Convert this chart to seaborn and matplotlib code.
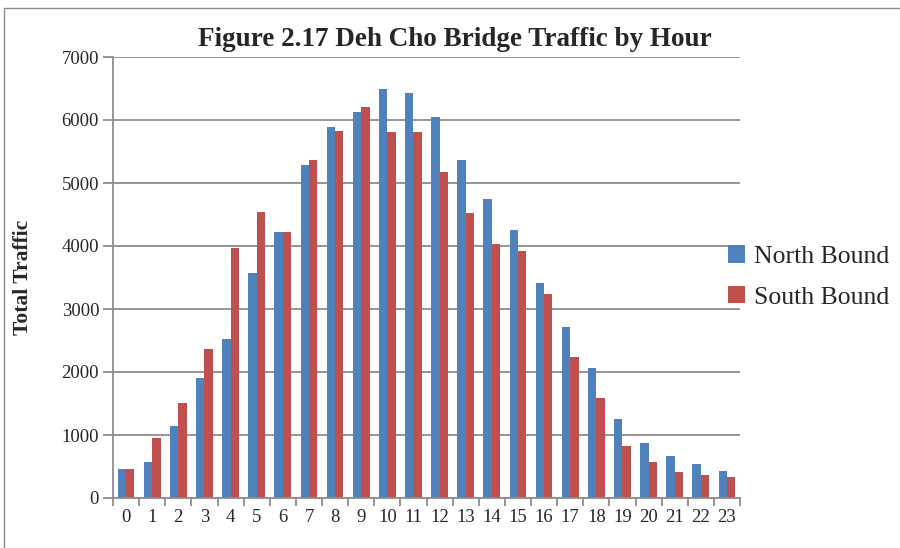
import numpy as np
import pandas as pd
import matplotlib
matplotlib.use("Agg")
import matplotlib.pyplot as plt
import seaborn as sns
from matplotlib.patches import Rectangle

hours = list(range(24))
north_bound = [460, 570, 1140, 1900, 2520, 3570, 4220, 5290, 5890, 6130, 6490, 6430,
               6050, 5370, 4750, 4250, 3410, 2710, 2060, 1250, 870, 670, 540, 430]
south_bound = [460, 950, 1510, 2370, 3970, 4540, 4220, 5370, 5830, 6210, 5810, 5810,
               5180, 4520, 4030, 3920, 3240, 2240, 1590, 830, 570, 410, 360, 330]
series_names = ["North Bound", "South Bound"]

df = pd.DataFrame({
    "Hour": hours * 2,
    "Traffic": north_bound + south_bound,
    "Direction": [series_names[0]] * 24 + [series_names[1]] * 24,
})

sns.set_theme(style="white")
plt.rcParams["font.family"] = ["Liberation Serif", "DejaVu Serif"]

fig = plt.figure(figsize=(9, 5.48), dpi=100)
ax = fig.add_axes([113 / 900, 1 - 498 / 548, (740 - 113) / 900, (498 - 57) / 548])

# chart area frame
fig.patches.append(Rectangle((4 / 900, -0.1), 1.2, 1.1 - 8 / 548,
                             transform=fig.transFigure, fill=False,
                             edgecolor="#8c8c8c", linewidth=1.0))

sns.barplot(data=df, x="Hour", y="Traffic", hue="Direction",
            palette=["#4F81BD", "#C0504D"], width=0.645, ax=ax,
            edgecolor="none", saturation=1, legend=True)

ax.set_ylim(0, 7000)
ax.set_xlim(-0.5, 23.5)
ax.set_yticks(range(0, 7001, 1000))
ax.yaxis.grid(True, color="#8c8c8c", linewidth=1.3)
ax.set_axisbelow(True)
for s in ["top", "right"]:
    ax.spines[s].set_visible(False)
for s in ["left", "bottom"]:
    ax.spines[s].set_color("#8c8c8c")
    ax.spines[s].set_linewidth(1.3)

ax.set_xticks(hours)
ax.set_xticklabels([str(h) for h in hours])
ax.set_xticks(np.arange(-0.5, 24, 1), minor=True)
ax.tick_params(axis="x", which="major", length=0, labelsize=13.5, pad=8)
ax.tick_params(axis="x", which="minor", length=6, color="#8c8c8c", width=1.3,
               bottom=True, direction="out")
ax.tick_params(axis="y", length=7, color="#8c8c8c", width=1.3, labelsize=13.5,
               left=True, direction="out", pad=3)

ax.set_xlabel("")
ax.set_ylabel("Total Traffic", fontsize=15.5, fontweight="bold")
ax.yaxis.set_label_coords(-0.127, 0.5)

fig.text(455 / 900, 1 - 40 / 548, "Figure 2.17 Deh Cho Bridge Traffic by Hour",
         ha="center", va="center", fontsize=19.5, fontweight="bold")

handles, labels = ax.get_legend_handles_labels()
ax.get_legend().remove()
fig.legend(handles, labels, loc="center left", bbox_to_anchor=(728 / 900, 1 - 277 / 548),
           frameon=False, fontsize=18.5, handlelength=0.65, handleheight=0.65,
           handletextpad=0.35, labelspacing=0.7, borderaxespad=0, borderpad=0)

fig.savefig("out.png", dpi=100)
